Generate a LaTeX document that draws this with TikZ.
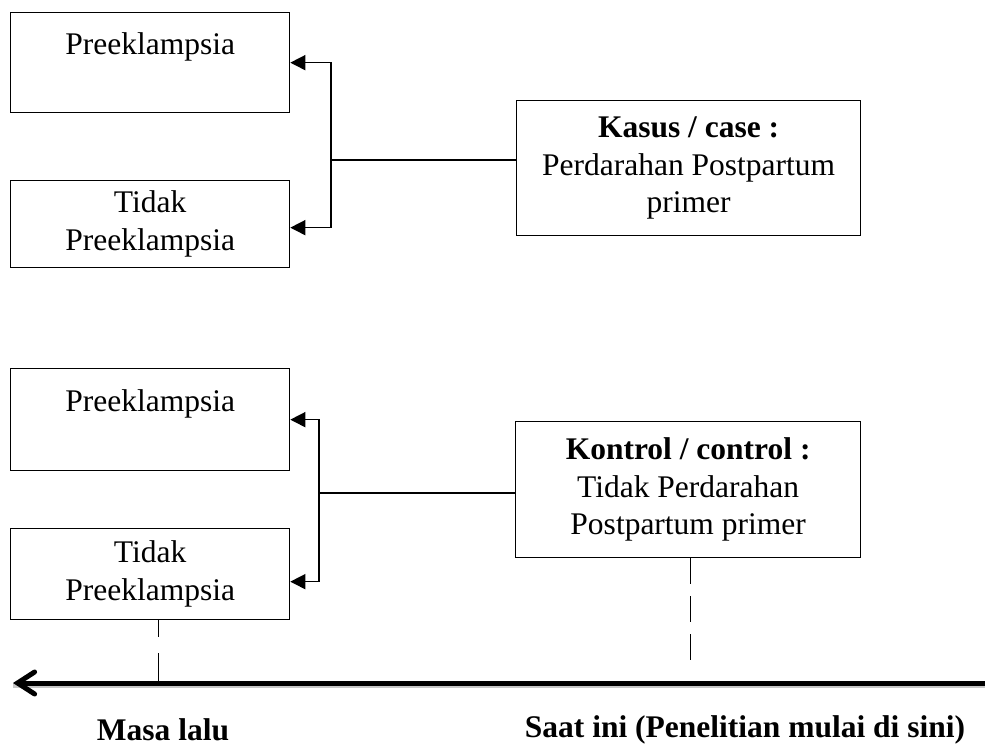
\documentclass[tikz,border=0pt]{standalone}
\usepackage{fontspec}
\setmainfont{Liberation Serif}
\usetikzlibrary{arrows.meta}
\begin{document}
\begin{tikzpicture}[
  x=1pt, y=-1pt,
  txt/.style={font=\fontsize{31.5}{37.5}\selectfont, align=center},
  box/.style={txt, draw, line width=1.3pt, inner sep=0pt, anchor=north west},
  arr/.style={-{Triangle[length=15pt, width=15pt]}, line width=1.5pt},
  lnk/.style={line width=1.5pt},
  dsh/.style={line width=1.5pt}
]
\useasboundingbox (0,0) rectangle (985,749);
\node[box, minimum width=279pt, minimum height=100pt] (pre1) at (10,12) {Preeklampsia\\~};
\node[box, minimum width=279pt, minimum height=87pt] (tidak1) at (10,180) {Tidak\\Preeklampsia};
\node[box, minimum width=344pt, minimum height=135pt] (kasus) at (516,100)
  {\textbf{Kasus / case :}\\Perdarahan Postpartum\\primer};
\node[box, minimum width=279pt, minimum height=102pt] (pre2) at (10,368) {Preeklampsia\\~};
\node[box, minimum width=279pt, minimum height=91pt] (tidak2) at (10,528) {Tidak\\Preeklampsia};
\node[box, minimum width=345pt, minimum height=136pt] (kontrol) at (515,421)
  {\textbf{Kontrol / control :}\\Tidak Perdarahan\\Postpartum primer};
\coordinate (jA) at (331,160);
\coordinate (jB) at (319,493);
\draw[lnk] (kasus.west |- jA) -- (jA);
\draw[arr] (jA) |- (pre1.east);
\draw[arr] (jA) |- ([yshift=-3.5pt]tidak1.east);
\draw[lnk] (kontrol.west |- jB) -- (jB);
\draw[arr] (jB) |- (pre2.east);
\draw[arr] (jB) |- ([yshift=-7.5pt]tidak2.east);
\coordinate (axR) at (985,683);
\coordinate (axL) at (13,683);
\coordinate (past) at ([xshift=8.5pt]tidak2.south);
\coordinate (now) at ([xshift=2.5pt]kontrol.south);
\draw[gray!45, line width=5pt, transform canvas={yshift=-2.5pt}] (axR) -- (axL);
\draw[line width=5pt, -{Straight Barb[length=17pt, width=22pt, line cap=round]}] (axR) -- (axL);
\draw[dsh, dash pattern=on 17pt off 16pt on 33pt off 16pt] (past) -- (past |- axL);
\draw[dsh, dash pattern=on 26pt off 12pt] (now) -- ++(0,103);
\node[txt, font=\fontsize{31.5}{37.5}\selectfont\bfseries] (lalu) at (163,730) {Masa lalu};
\node[txt, font=\fontsize{31.5}{37.5}\selectfont\bfseries] (kini) at (745,730) {Saat ini (Penelitian mulai di sini)};
\end{tikzpicture}
\end{document}
